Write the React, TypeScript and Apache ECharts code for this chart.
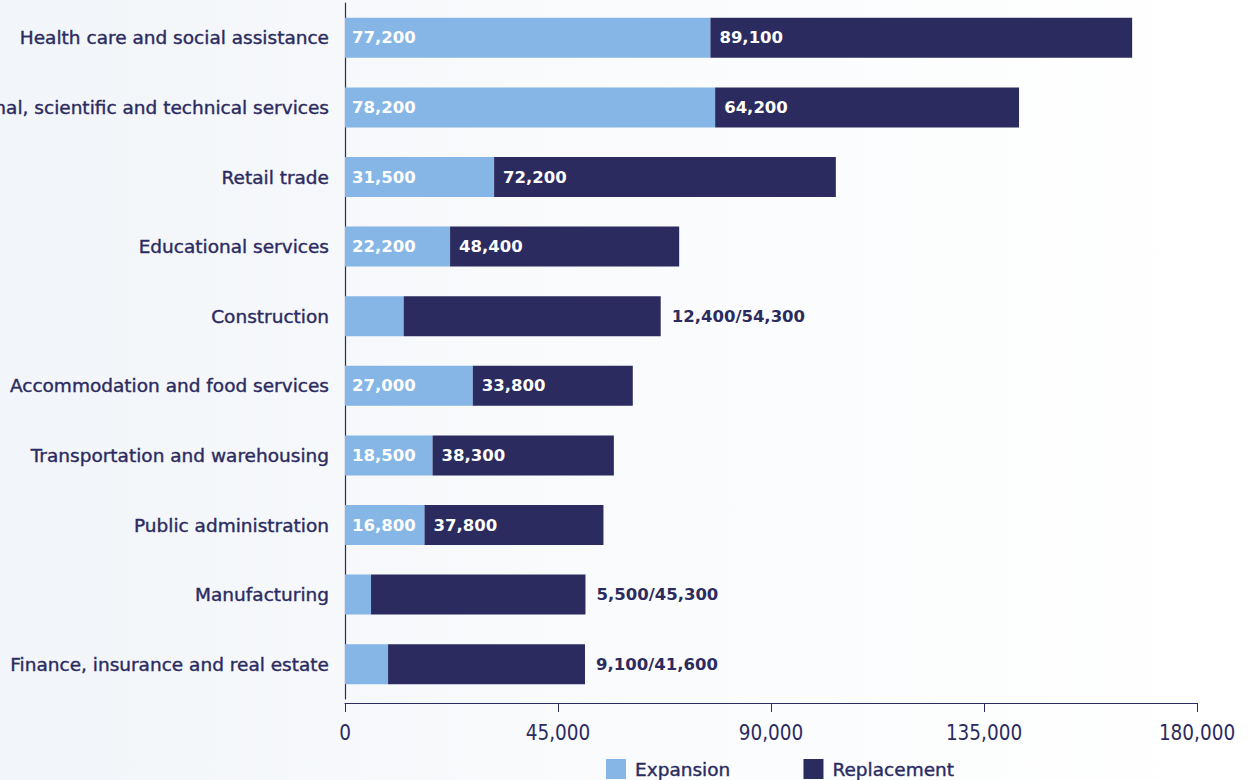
import React, { useEffect, useRef } from "react";
import * as echarts from "echarts";

const categories = [
  "Health care and social assistance",
  "Professional, scientific and technical services",
  "Retail trade",
  "Educational services",
  "Construction",
  "Accommodation and food services",
  "Transportation and warehousing",
  "Public administration",
  "Manufacturing",
  "Finance, insurance and real estate",
];
const expansion = [77200, 78200, 31500, 22200, 12400, 27000, 18500, 16800, 5500, 9100];
const replacement = [89100, 64200, 72200, 48400, 54300, 33800, 38300, 37800, 45300, 41600];
// categories whose values are shown outside the bar as "expansion/replacement"
const outsideLabel = [false, false, false, false, true, false, false, false, true, true];
const xTicks = [0, 45000, 90000, 135000, 180000];

const NAVY = "#2b2b5f";
const LIGHT = "#86b6e6";
const FONT = "'DejaVu Sans', sans-serif";
const FONT_COND = "'DejaVu Sans Condensed', 'DejaVu Sans', sans-serif";

const fmt = (v: number) => v.toLocaleString("en-US");

export default function App() {
  const ref = useRef<HTMLDivElement>(null);
  useEffect(() => {
    document.body.style.margin = "0";
    const chart = echarts.init(ref.current!, null, { renderer: "svg" });
    const cats = [...categories].reverse();
    const exp = [...expansion].reverse();
    const rep = [...replacement].reverse();
    const outs = [...outsideLabel].reverse();
    const valueLabel = (color: string) => ({
      color,
      fontSize: 16.5,
      fontWeight: "bold",
      fontFamily: FONT,
    });
    chart.setOption({
      animation: false,
      backgroundColor: "transparent",
      textStyle: { fontFamily: FONT },
      grid: {
        left: 345,
        right: 51,
        top: 3,
        bottom: 81,
        containLabel: false,
        outerBoundsMode: "none",
      },
      legend: {
        left: 606,
        top: 759,
        padding: 0,
        itemWidth: 20,
        itemHeight: 20,
        itemGap: 73,
        icon: "rect",
        textStyle: {
          color: NAVY,
          fontSize: 18.5,
          fontFamily: FONT,
          padding: [0, 0, 0, 4],
          textBorderColor: NAVY,
          textBorderWidth: 0.4,
        },
        data: ["Expansion", "Replacement"],
      },
      xAxis: {
        type: "value",
        min: xTicks[0],
        max: xTicks[xTicks.length - 1],
        interval: xTicks[1] - xTicks[0],
        offset: 4,
        axisLine: { show: true, lineStyle: { color: NAVY, width: 1.2 } },
        axisTick: { show: true, length: 9, lineStyle: { color: NAVY } },
        splitLine: { show: false },
        axisLabel: {
          color: NAVY,
          fontSize: 20.5,
          margin: 19,
          fontFamily: FONT_COND,
          formatter: (v: number) => fmt(v),
        },
      },
      yAxis: {
        type: "category",
        data: cats,
        axisLine: { show: true, lineStyle: { color: NAVY, width: 1.2 } },
        axisTick: { show: false },
        axisLabel: {
          color: NAVY,
          fontSize: 18.5,
          margin: 16,
          fontFamily: FONT,
          textBorderColor: NAVY,
          textBorderWidth: 0.4,
        },
      },
      series: [
        {
          name: "Expansion",
          type: "bar",
          stack: "total",
          barWidth: 40,
          itemStyle: { color: LIGHT },
          data: exp.map((v, i) => ({
            value: v,
            label: {
              show: !outs[i],
              position: "insideLeft",
              distance: 7,
              ...valueLabel("#ffffff"),
              formatter: () => fmt(v),
            },
          })),
        },
        {
          name: "Replacement",
          type: "bar",
          stack: "total",
          barWidth: 40,
          itemStyle: { color: NAVY },
          data: rep.map((v, i) =>
            outs[i]
              ? {
                  value: v,
                  label: {
                    show: true,
                    position: "right",
                    distance: 11,
                    ...valueLabel(NAVY),
                    formatter: () => `${fmt(exp[i])}/${fmt(v)}`,
                  },
                }
              : {
                  value: v,
                  label: {
                    show: true,
                    position: "insideLeft",
                    distance: 9,
                    ...valueLabel("#ffffff"),
                    formatter: () => fmt(v),
                  },
                }
          ),
        },
      ],
    });
    return () => chart.dispose();
  }, []);
  return (
    <div
      style={{
        width: 1248,
        height: 780,
        background: "linear-gradient(to right, #f2f5f9 0%, #fbfcfd 60%, #ffffff 100%)",
      }}
    >
      <div ref={ref} style={{ width: 1248, height: 780 }} />
    </div>
  );
}
